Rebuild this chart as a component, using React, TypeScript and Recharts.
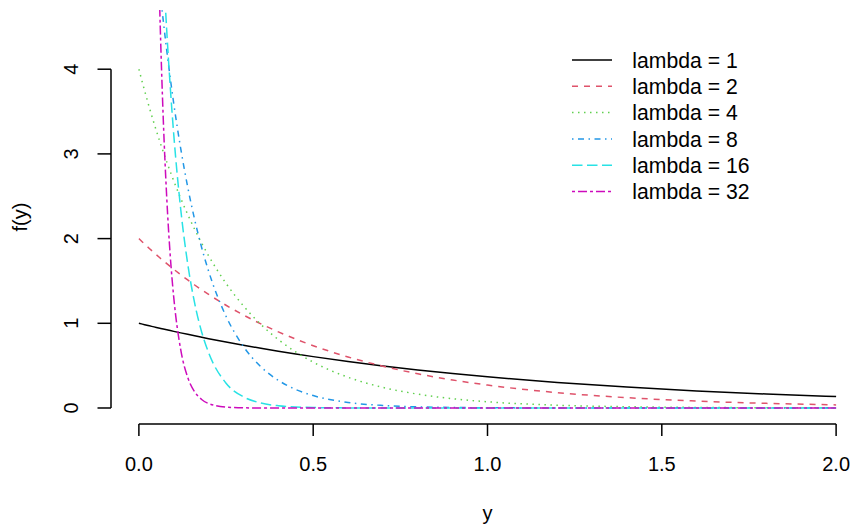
import React from "react";
import { LineChart, Line, XAxis, YAxis, ReferenceLine, Legend, Label } from "recharts";

// grid of y (x-axis) values
const X_VALUES = [0, 0.01, 0.02, 0.03, 0.04, 0.05, 0.06, 0.07, 0.08, 0.09, 0.1, 0.12, 0.14, 0.16, 0.18, 0.2, 0.25, 0.3, 0.35, 0.4, 0.45, 0.5, 0.6, 0.7, 0.8, 0.9, 1.0, 1.2, 1.4, 1.6, 1.8, 2.0];

const LAMBDA_1 = [1, 0.99, 0.9802, 0.9704, 0.9608, 0.9512, 0.9418, 0.9324, 0.9231, 0.9139, 0.9048, 0.8869, 0.8694, 0.8521, 0.8353, 0.8187, 0.7788, 0.7408, 0.7047, 0.6703, 0.6376, 0.6065, 0.5488, 0.4966, 0.4493, 0.4066, 0.3679, 0.3012, 0.2466, 0.2019, 0.1653, 0.1353];
const LAMBDA_2 = [2, 1.9604, 1.9216, 1.8836, 1.8462, 1.8096, 1.7738, 1.7388, 1.7042, 1.6706, 1.6374, 1.5732, 1.5116, 1.4522, 1.3954, 1.3406, 1.213, 1.0976, 0.9932, 0.8986, 0.8132, 0.7358, 0.6024, 0.4932, 0.4038, 0.3306, 0.2706, 0.1814, 0.1216, 0.0816, 0.0546, 0.0366];
const LAMBDA_4 = [4, 3.8432, 3.6924, 3.5476, 3.4084, 3.2748, 3.1464, 3.0232, 2.9044, 2.7908, 2.6812, 2.4752, 2.2848, 2.1092, 1.9472, 1.7972, 1.4716, 1.2048, 0.9864, 0.8076, 0.6612, 0.5412, 0.3628, 0.2432, 0.1632, 0.1092, 0.0732, 0.0329, 0.0148, 0.0066, 0.003, 0.0013];
const LAMBDA_8 = [8, 7.385, 6.817, 6.293, 5.809, 5.362, 4.95, 4.57, 4.218, 3.894, 3.594, 3.063, 2.61, 2.224, 1.895, 1.615, 1.083, 0.7256, 0.4864, 0.3264, 0.2184, 0.1464, 0.0658, 0.0296, 0.0133, 0.006, 0.0027, 0.0005, 0.0001, 0, 0, 0];
const LAMBDA_16 = [16, 13.63, 11.62, 9.901, 8.437, 7.189, 6.126, 5.221, 4.448, 3.79, 3.23, 2.346, 1.703, 1.237, 0.898, 0.6528, 0.2928, 0.1317, 0.0592, 0.0266, 0.012, 0.0054, 0.0011, 0.0002, 0, 0, 0, 0, 0, 0, 0, 0];
const LAMBDA_32 = [32, 23.24, 16.87, 12.25, 8.896, 6.461, 4.691, 3.405, 2.474, 1.795, 1.306, 0.688, 0.3626, 0.191, 0.1008, 0.0531, 0.0107, 0.0022, 0.0004, 0.0001, 0, 0, 0, 0, 0, 0, 0, 0, 0, 0, 0, 0];

const SERIES_NAMES = ["lambda = 1", "lambda = 2", "lambda = 4", "lambda = 8", "lambda = 16", "lambda = 32"];
const SERIES_KEYS = ["l1", "l2", "l4", "l8", "l16", "l32"];
const SERIES_COLORS = ["#000000", "#DF536B", "#61D04F", "#2297E6", "#28E2E5", "#CD0BBC"];
const SERIES_DASHES = ["", "6 6", "1.5 4.5", "1.5 4.5 6 4.5", "10.5 4.5", "3 3 9 3"];

const X_TICKS = [0, 0.5, 1, 1.5, 2];
const Y_TICKS = [0, 1, 2, 3, 4];

const X_DOMAIN: [number, number] = [-0.08, 2.08];
const Y_DOMAIN: [number, number] = [-0.189, 4.699];

const FONT = "'Liberation Sans', Arial, Helvetica, sans-serif";
const LW = 1.5;

const rows = X_VALUES.map((x, i) => ({
  x,
  l1: LAMBDA_1[i],
  l2: LAMBDA_2[i],
  l4: LAMBDA_4[i],
  l8: LAMBDA_8[i],
  l16: LAMBDA_16[i],
  l32: LAMBDA_32[i],
}));

const YTick = (props: any) => {
  const { x, y, payload } = props;
  return (
    <text
      x={x}
      y={y}
      transform={`rotate(-90, ${x}, ${y})`}
      textAnchor="middle"
      fontSize={20}
      fontFamily={FONT}
      fill="#000"
    >
      {String(payload.value)}
    </text>
  );
};

const YTitle = (props: any) => {
  const vb = props.viewBox || { x: 0, y: 10, width: 111, height: 414 };
  const cx = 27;
  const cy = vb.y + vb.height / 2;
  return (
    <text
      x={cx}
      y={cy}
      transform={`rotate(-90, ${cx}, ${cy})`}
      textAnchor="middle"
      fontSize={20}
      fontFamily={FONT}
      fill="#000"
    >
      f(y)
    </text>
  );
};

const LegendContent = () => {
  const rowGap = 26.3;
  return (
    <svg width={300} height={170} style={{ overflow: "visible" }}>
      {SERIES_NAMES.map((name, i) => (
        <g key={name}>
          <line
            x1={0}
            x2={40}
            y1={15 + i * rowGap}
            y2={15 + i * rowGap}
            stroke={SERIES_COLORS[i]}
            strokeWidth={LW}
            strokeDasharray={SERIES_DASHES[i] || undefined}
          />
          <text
            x={60.3}
            y={15 + i * rowGap + 7.6}
            fontSize={21.2}
            fontFamily={FONT}
            fill="#000"
          >
            {name}
          </text>
        </g>
      ))}
    </svg>
  );
};

export default function App() {
  return (
    <div
      style={{
        position: "absolute",
        left: 0,
        top: 0,
        width: 853,
        height: 527,
        overflow: "hidden",
        background: "#fff",
      }}
    >
      <LineChart
        width={864}
        height={527}
        data={rows}
        margin={{ top: 10, right: 0, bottom: 0, left: 0 }}
      >
        <XAxis
          dataKey="x"
          type="number"
          domain={X_DOMAIN}
          allowDataOverflow
          ticks={X_TICKS}
          tickFormatter={(v: number) => v.toFixed(1)}
          axisLine={false}
          tickSize={12}
          tickMargin={21}
          tickLine={{ stroke: "#000", strokeWidth: LW }}
          tick={{ fill: "#000", fontSize: 20, fontFamily: FONT }}
          height={103}
          interval={0}
        >
          <Label
            value="y"
            position="insideBottom"
            offset={7}
            fill="#000"
            fontSize={20}
            fontFamily={FONT}
          />
        </XAxis>
        <YAxis
          type="number"
          domain={Y_DOMAIN}
          allowDataOverflow
          ticks={Y_TICKS}
          axisLine={false}
          tickSize={13.5}
          tickMargin={19}
          tickLine={{ stroke: "#000", strokeWidth: LW }}
          tick={<YTick />}
          width={111}
          interval={0}
        >
          <Label content={<YTitle />} />
        </YAxis>
        <ReferenceLine
          segment={[{ x: X_TICKS[0], y: Y_DOMAIN[0] }, { x: X_TICKS[X_TICKS.length - 1], y: Y_DOMAIN[0] }]}
          stroke="#000"
          strokeWidth={LW}
          ifOverflow="visible"
        />
        <ReferenceLine
          segment={[{ x: X_DOMAIN[0], y: Y_TICKS[0] }, { x: X_DOMAIN[0], y: Y_TICKS[Y_TICKS.length - 1] }]}
          stroke="#000"
          strokeWidth={LW}
          ifOverflow="visible"
        />
        {SERIES_KEYS.map((k, i) => (
          <Line
            key={k}
            dataKey={k}
            name={SERIES_NAMES[i]}
            type="monotone"
            stroke={SERIES_COLORS[i]}
            strokeWidth={LW}
            strokeDasharray={SERIES_DASHES[i] || undefined}
            dot={false}
            activeDot={false}
            isAnimationActive={false}
          />
        ))}
        <Legend
          layout="vertical"
          align="center"
          verticalAlign="middle"
          content={<LegendContent />}
          wrapperStyle={{ position: "absolute", left: 571.7, top: 45, width: 300, height: 170 }}
        />
      </LineChart>
    </div>
  );
}
